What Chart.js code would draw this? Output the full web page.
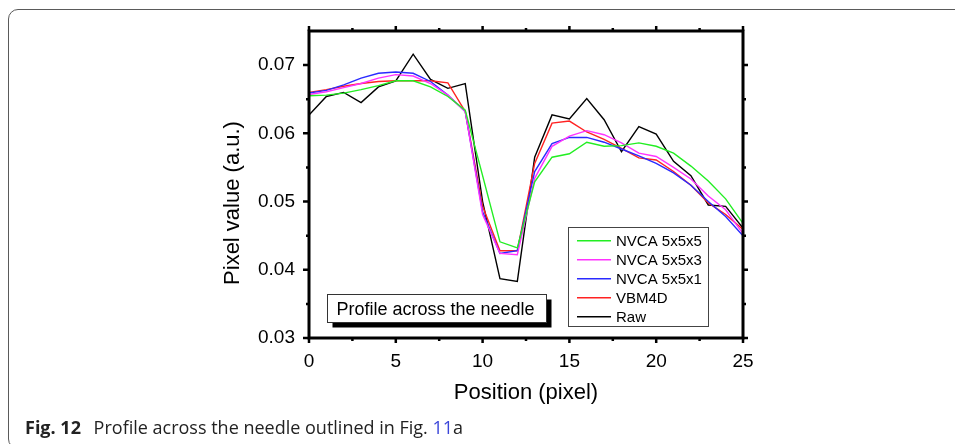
<!DOCTYPE html>
<html>
<head>
<meta charset="utf-8">
<script src="https://cdn.jsdelivr.net/npm/chart.js@4.4.0/dist/chart.umd.min.js"></script>
<style>
  html, body { margin:0; padding:0; background:#fff; width:955px; height:444px; overflow:hidden; }
  #card { position:absolute; left:8px; top:9px; width:970px; height:440px; border:1.5px solid #5a5a5a; border-radius:10px; box-sizing:border-box; }
  #wrap { position:absolute; left:0; top:0; width:955px; height:444px; }
  #caption { position:absolute; left:25px; top:416px; font-family:"Open Sans", "Noto Sans", sans-serif; font-size:18px; line-height:22px; color:#222; white-space:nowrap; }
  #caption b { font-weight:700; margin-right:8px; }
  #caption .ref { color:#3b46d9; }
</style>
</head>
<body>
<div id="card"></div>
<div id="wrap"><canvas id="c" width="955" height="444"></canvas></div>
<div id="caption"><b>Fig. 12</b> Profile across the needle outlined in Fig. <span class="ref">11</span>a</div>
<script>
// ---- data ----
const positions = [0,1,2,3,4,5,6,7,8,9,10,11,12,13,14,15,16,17,18,19,20,21,22,23,24,25];
const nvca555 = [0.0655,0.0656,0.0659,0.0664,0.0670,0.0677,0.0677,0.0668,0.0654,0.0634,0.0538,0.0441,0.0432,0.0529,0.0565,0.0570,0.0587,0.0581,0.0582,0.0586,0.0581,0.0571,0.0552,0.0530,0.0504,0.0468];
const nvca553 = [0.0657,0.0661,0.0667,0.0673,0.0681,0.0686,0.0684,0.0673,0.0656,0.0632,0.0481,0.0424,0.0422,0.0534,0.0581,0.0596,0.0604,0.0598,0.0586,0.0571,0.0566,0.0550,0.0533,0.0508,0.0488,0.0453];
const nvca551 = [0.0659,0.0663,0.0671,0.0681,0.0688,0.0690,0.0688,0.0676,0.0656,0.0632,0.0485,0.0424,0.0428,0.0544,0.0585,0.0594,0.0594,0.0587,0.0577,0.0567,0.0556,0.0542,0.0524,0.0500,0.0478,0.0450];
const vbm4d   = [0.0660,0.0664,0.0669,0.0673,0.0676,0.0677,0.0677,0.0677,0.0674,0.0632,0.0493,0.0428,0.0428,0.0556,0.0615,0.0618,0.0602,0.0591,0.0578,0.0564,0.0561,0.0544,0.0524,0.0498,0.0481,0.0459];
const raw     = [0.0627,0.0654,0.0660,0.0645,0.0668,0.0677,0.0716,0.0679,0.0666,0.0673,0.0500,0.0387,0.0383,0.0565,0.0627,0.0621,0.0651,0.0620,0.0573,0.0610,0.0599,0.0559,0.0538,0.0495,0.0493,0.0461];

const seriesLabels = ['NVCA 5x5x5','NVCA 5x5x3','NVCA 5x5x1','VBM4D','Raw'];
const seriesColors = ['#22ee22','#ff33ff','#2a2aff','#ff2222','#000000'];
const seriesValues = [nvca555, nvca553, nvca551, vbm4d, raw];

const xMajorTicks = [0,5,10,15,20,25];
const xMinorTicks = [2.5,7.5,12.5,17.5,22.5];
const yMajorTicks = [0.03,0.04,0.05,0.06,0.07];
const yMinorTicks = [0.035,0.045,0.055,0.065];
const xTitle = 'Position (pixel)';
const yTitle = 'Pixel value (a.u.)';
const noteText = 'Profile across the needle';

const FONT = '"Liberation Sans", Arial, sans-serif';

const decorPlugin = {
  id: 'decor',
  afterDatasetsDraw(chart) {
    const ctx = chart.ctx;
    const {left, right, top, bottom} = chart.chartArea;
    const xs = chart.scales.x, ys = chart.scales.y;
    ctx.save();
    ctx.strokeStyle = '#000';
    ctx.lineCap = 'butt';
    // ticks
    ctx.lineWidth = 2.5;
    ctx.beginPath();
    xMajorTicks.forEach(v => {
      const px = xs.getPixelForValue(v);
      ctx.moveTo(px, bottom); ctx.lineTo(px, bottom + 5);
      ctx.moveTo(px, top); ctx.lineTo(px, top - 5);
    });
    xMinorTicks.forEach(v => {
      const px = xs.getPixelForValue(v);
      ctx.moveTo(px, bottom); ctx.lineTo(px, bottom + 3);
      ctx.moveTo(px, top); ctx.lineTo(px, top - 3);
    });
    yMajorTicks.forEach(v => {
      const py = ys.getPixelForValue(v);
      ctx.moveTo(left - 6, py); ctx.lineTo(left, py);
      ctx.moveTo(right, py); ctx.lineTo(right + 5, py);
    });
    yMinorTicks.forEach(v => {
      const py = ys.getPixelForValue(v);
      ctx.moveTo(left - 3, py); ctx.lineTo(left, py);
      ctx.moveTo(right, py); ctx.lineTo(right + 3, py);
    });
    ctx.stroke();
    // frame
    ctx.lineWidth = 3;
    ctx.strokeRect(left, top, right - left, bottom - top);

    // axis titles
    ctx.fillStyle = '#000';
    ctx.font = '22px ' + FONT;
    ctx.textAlign = 'center';
    ctx.textBaseline = 'middle';
    ctx.fillText(xTitle, (left + right) / 2, 393);
    ctx.save();
    ctx.translate(233, 203);
    ctx.rotate(-Math.PI / 2);
    ctx.fillText(yTitle, 0, 0);
    ctx.restore();

    // note box with shadow
    const bx = 327.5, by = 294.5, bw = 219, bh = 28;
    ctx.fillStyle = '#000';
    ctx.fillRect(bx + 5, by + 5, bw, bh);
    ctx.fillStyle = '#fff';
    ctx.fillRect(bx, by, bw, bh);
    ctx.lineWidth = 1;
    ctx.strokeStyle = '#333';
    ctx.strokeRect(bx, by, bw, bh);
    ctx.fillStyle = '#000';
    ctx.font = '18px ' + FONT;
    ctx.textAlign = 'left';
    ctx.textBaseline = 'alphabetic';
    ctx.fillText(noteText, 336.5, 315);

    // legend
    const lx = 568.5, ly = 227.5, lw = 140, lh = 99;
    ctx.fillStyle = '#fff';
    ctx.fillRect(lx, ly, lw, lh);
    ctx.strokeStyle = '#444';
    ctx.lineWidth = 1;
    ctx.strokeRect(lx, ly, lw, lh);
    ctx.font = '15px ' + FONT;
    ctx.textBaseline = 'middle';
    chart.data.datasets.forEach((ds, i) => {
      const yy = 240.7 + i * 19;
      ctx.strokeStyle = ds.borderColor;
      ctx.lineWidth = 1.5;
      ctx.beginPath();
      ctx.moveTo(577, yy); ctx.lineTo(611, yy);
      ctx.stroke();
      ctx.fillStyle = '#000';
      ctx.fillText(ds.label, 616, yy + 1);
    });
    ctx.restore();
  }
};

const chart = new Chart(document.getElementById('c'), {
  type: 'line',
  data: {
    labels: positions,
    datasets: seriesLabels.map((lab, i) => ({
      label: lab,
      data: positions.map((p, j) => ({x: p, y: seriesValues[i][j]})),
      borderColor: seriesColors[i],
      backgroundColor: seriesColors[i],
      borderWidth: 1.4,
      pointRadius: 0,
      tension: 0,
      fill: false
    }))
  },
  options: {
    responsive: false,
    animation: false,
    events: [],
    layout: { padding: { left: 215, right: 212, top: 31, bottom: 10 } },
    plugins: { legend: { display: false }, tooltip: { enabled: false }, title: { display: false } },
    scales: {
      x: {
        type: 'linear', min: 0, max: 25,
        grid: { display: false, drawTicks: false },
        border: { display: false },
        afterBuildTicks: s => { s.ticks = xMajorTicks.map(v => ({value: v})); },
        afterFit: s => { s.height = 444 - 10 - 338; },
        ticks: { color: '#000', font: { family: FONT, size: 19 }, padding: 12, maxRotation: 0, callback: v => String(v) }
      },
      y: {
        type: 'linear', min: 0.03, max: 0.075,
        grid: { display: false, drawTicks: false },
        border: { display: false },
        afterBuildTicks: s => { s.ticks = yMajorTicks.map(v => ({value: v})); },
        afterFit: s => { s.width = 309 - 215; },
        ticks: { color: '#000', font: { family: FONT, size: 19 }, padding: 14, callback: v => Number(v).toFixed(2) }
      }
    }
  },
  plugins: [decorPlugin]
});
</script>
</body>
</html>
